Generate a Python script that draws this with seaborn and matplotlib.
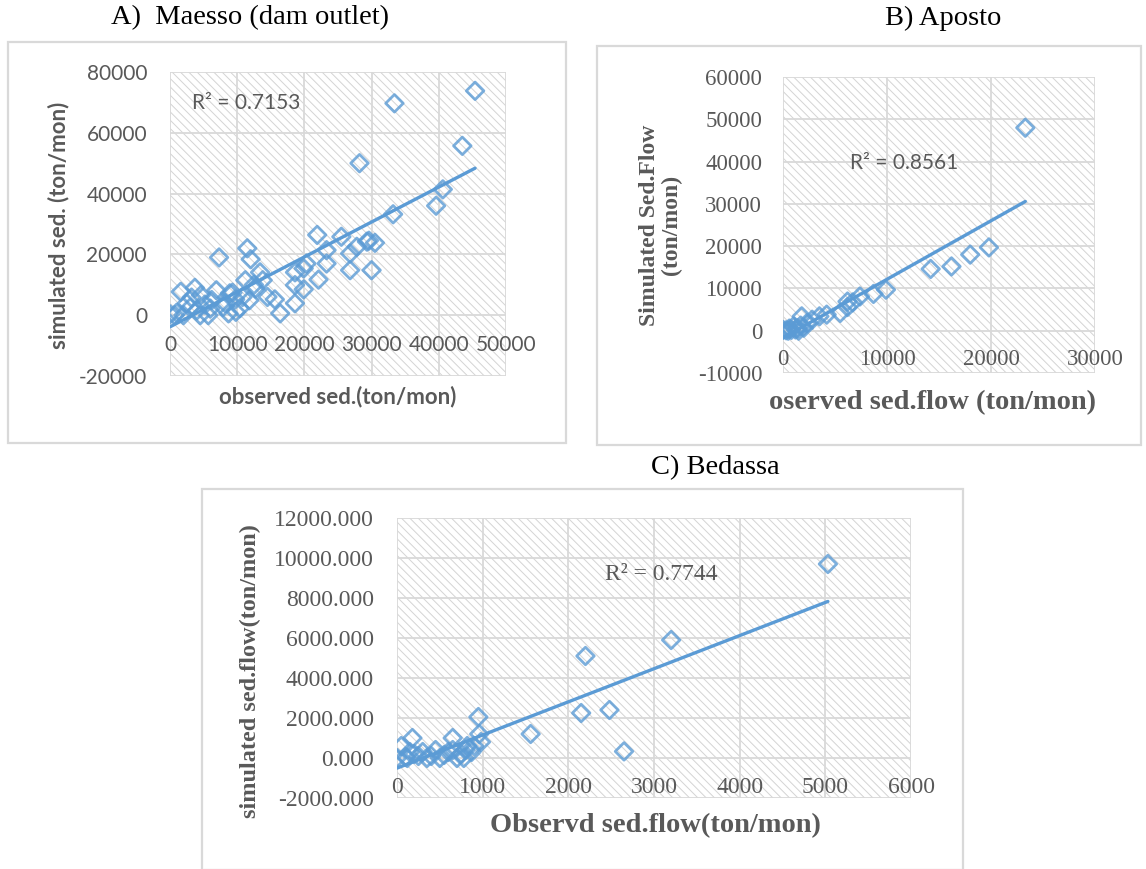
import numpy as np
import pandas as pd
import seaborn as sns
import matplotlib
matplotlib.use("Agg")
import matplotlib.pyplot as plt
from matplotlib.patches import Rectangle

# ---------------- data ----------------
a_obs = [45400, 33400, 43500, 28200, 40600, 39600, 33200, 21900, 25500, 29300,
         30500, 29600, 27800, 26800, 23300, 26800, 30000, 23300, 22100, 19900,
         18600, 18600, 19900, 18600, 16400, 15600, 14500, 13400, 11500, 12000,
         7300, 11200, 11800, 12700, 9700, 9800, 8700, 8900, 6900, 5700,
         4600, 3700, 1600, 2500, 4500, 2000, 0, 700, 7900, 6000,
         4000, 10400, 3200, 13800, 10800, 6200, 3000, 1000, 8200, 20300,
         12500, 5200, 9300]
a_sim = [73800, 69700, 55700, 50000, 41400, 36000, 33200, 26400, 25800, 24200,
         23800, 24500, 22500, 20300, 21400, 14800, 14800, 17000, 11700, 15400,
         14100, 9900, 8500, 3900, 600, 5200, 6000, 14100, 22000, 18400,
         19000, 11500, 4900, 8800, 5200, 1100, 600, 7200, 8200, 0,
         6600, 9000, 7700, 3900, 0, 0, 300, 0, 2700, 2200,
         1600, 2300, 5800, 11500, 6000, 5000, 2500, 800, 4000, 17000,
         10000, 3500, 7400]

b_obs = [23300, 19800, 18000, 16200, 14200, 9900, 8700, 7400, 6700, 6200,
         5500, 6200, 4200, 3500, 1800, 2300, 1000, 0, 500, 1500,
         2000, 800, 1200, 300, 1700, 600, 2800, 1400]
b_sim = [48000, 19700, 18000, 15200, 14600, 9700, 8700, 8100, 6700, 5600,
         4200, 6900, 3800, 3400, 3400, 1800, 1000, 200, 0, 0,
         700, 200, 300, 100, 1200, 500, 2600, 600]

c_obs = [5030, 3200, 2200, 2150, 2480, 2650, 1560, 950, 960, 980,
         870, 820, 650, 180, 50, 0, 100, 120, 200, 300,
         350, 400, 450, 500, 600, 700, 780, 800, 150, 250,
         550, 650, 750, 900]
c_sim = [9700, 5900, 5100, 2250, 2400, 330, 1200, 2050, 1200, 800,
         300, 600, 1000, 1000, 600, 0, 50, 0, 200, 300,
         0, 100, 400, 0, 300, 0, 0, 400, 300, 100,
         150, 400, 200, 600]

titles = ["A)  Maesso (dam outlet)", "B) Aposto", "C) Bedassa"]
r2_text = ["R\u00b2 = 0.7153", "R\u00b2 = 0.8561", "R\u00b2 = 0.7744"]
a_xticks = [0, 10000, 20000, 30000, 40000, 50000]
a_yticks = [-20000, 0, 20000, 40000, 60000, 80000]
b_xticks = [0, 10000, 20000, 30000]
b_yticks = [-10000, 0, 10000, 20000, 30000, 40000, 50000, 60000]
c_xticks = [0, 1000, 2000, 3000, 4000, 5000, 6000]
c_yticks = [-2000, 0, 2000, 4000, 6000, 8000, 10000, 12000]

# ---------------- style ----------------
sns.set_theme(style="white")
plt.rcParams["hatch.color"] = "#d4d4d4"
plt.rcParams["hatch.linewidth"] = 0.7

W, H = 1146, 869
fig = plt.figure(figsize=(W / 100, H / 100), dpi=100)
fig.patch.set_facecolor("white")

BLUE = "#5B9BD5"
GRAY = "#595959"
GRID = "#d9d9d9"
SANS = "Lato"
SERIF = "Liberation Serif"


def rect(l, t, r, b):
    return [l / W, 1 - b / H, (r - l) / W, (b - t) / H]


def box(l, t, r, b):
    fig.patches.append(Rectangle((l / W, 1 - b / H), (r - l) / W, (b - t) / H,
                                 transform=fig.transFigure, fill=False,
                                 edgecolor="#d9d9d9", linewidth=1.6, zorder=0))


def panel(pos, x, y, xticks, yticks, xlim, ylim, tickfont, ticksize, fmt,
          xpad, ypad):
    ax = fig.add_axes(rect(*pos))
    ax.add_patch(Rectangle((0, 0), 1, 1, transform=ax.transAxes,
                           facecolor="white", edgecolor="#d4d4d4",
                           hatch="\\\\\\\\", linewidth=0, zorder=0.1))
    df = pd.DataFrame({"obs": x, "sim": y})
    sns.regplot(data=df, x="obs", y="sim", ax=ax, ci=None, marker="D",
                color=BLUE, truncate=True,
                scatter_kws=dict(s=80, facecolor="none", edgecolor=BLUE,
                                 linewidths=2.0, zorder=3),
                line_kws=dict(linewidth=2.4, zorder=4))
    ax.set_xlim(*xlim)
    ax.set_ylim(*ylim)
    ax.set_xticks(xticks)
    ax.set_yticks(yticks)
    ax.set_xticklabels([str(v) for v in xticks])
    ax.set_yticklabels([fmt.format(v) for v in yticks])
    ax.grid(True, color=GRID, linewidth=1.3)
    ax.set_axisbelow(True)
    for s in ax.spines.values():
        s.set_visible(False)
    ax.spines["bottom"].set_position(("data", 0))
    ax.tick_params(axis="both", length=0, colors=GRAY, labelsize=ticksize)
    ax.tick_params(axis="x", pad=xpad)
    ax.tick_params(axis="y", pad=ypad)
    for lab in ax.get_xticklabels() + ax.get_yticklabels():
        lab.set_family(tickfont)
        lab.set_color(GRAY)
    ax.set_facecolor("white")
    return ax


# ---------------- panel A ----------------
box(8, 42, 566, 443)
axA = panel((170, 72, 506, 376), a_obs, a_sim, a_xticks, a_yticks,
            (0, 50000), (-20000, 80000), SANS, 15, "{:d}", 14, 16.5)
axA.set_xlabel("observed sed.(ton/mon)", family=SANS, weight="bold",
               color=GRAY, fontsize=16, va="center")
axA.set_ylabel("simulated sed. (ton/mon)", family=SANS, weight="bold",
               color=GRAY, fontsize=16, va="center", ha="center")
axA.xaxis.set_label_coords(0.5, -0.069)
axA.yaxis.set_label_coords(-0.333, 0.497)
axA.text(3270, 69850, r2_text[0], family=SANS, color=GRAY, fontsize=15,
         ha="left", va="center", zorder=5)

# ---------------- panel B ----------------
box(597, 46, 1141, 445)
axB = panel((783, 77, 1095, 373), b_obs, b_sim, b_xticks, b_yticks,
            (0, 30000), (-10000, 60000), SERIF, 16.5, "{:d}", 13, 15)
axB.set_xlabel("oserved sed.flow (ton/mon)", family=SERIF, weight="bold",
               color=GRAY, fontsize=20.5, va="center")
axB.set_ylabel("Simulated Sed.Flow\n(ton/mon)", family=SERIF, weight="bold",
               color=GRAY, fontsize=17, va="center", ha="center",
               linespacing=1.05)
axB.xaxis.set_label_coords(0.478, -0.101)
axB.yaxis.set_label_coords(-0.394, 0.5)
axB.text(6420, 39720, r2_text[1], family=SANS, color=GRAY, fontsize=15,
         ha="left", va="center", zorder=5)

# ---------------- panel C ----------------
box(202, 489, 963, 870)
axC = panel((397, 518, 911, 798), c_obs, c_sim, c_xticks, c_yticks,
            (0, 6000), (-2000, 12000), SERIF, 17, "{:.3f}", 14, 16.5)
axC.set_xlabel("Observd sed.flow(ton/mon)", family=SERIF, weight="bold",
               color=GRAY, fontsize=20.5, va="center")
axC.set_ylabel("simulated sed.flow(ton/mon)", family=SERIF, weight="bold",
               color=GRAY, fontsize=17.5, va="center", ha="center")
axC.xaxis.set_label_coords(0.502, -0.1)
axC.yaxis.set_label_coords(-0.286, 0.454)
axC.text(2427, 9200, r2_text[2], family=SERIF, color=GRAY, fontsize=17,
         ha="left", va="center", zorder=5)

# ---------------- titles ----------------
for (tx, ty), t in zip([(250, 18), (943, 18), (715, 468)], titles):
    fig.text(tx / W, 1 - ty / H, t, family=SERIF, fontsize=20.5,
             color="black", ha="center", va="center")

fig.savefig("out.png", dpi=100, facecolor="white")
